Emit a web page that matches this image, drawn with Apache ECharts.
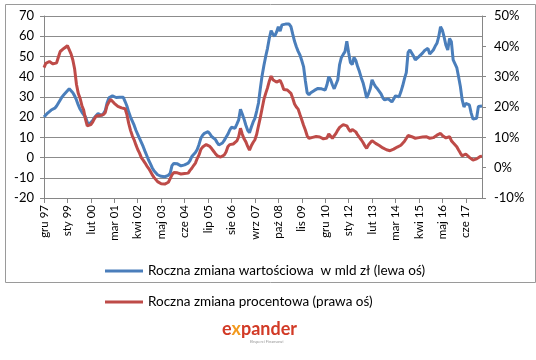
<!DOCTYPE html>
<html>
<head>
<meta charset="utf-8">
<script src="https://cdn.jsdelivr.net/npm/echarts@6/dist/echarts.min.js"></script>
<style>html,body{margin:0;padding:0;background:#fff;}#c{width:536px;height:360px;}</style>
</head>
<body>
<div id="c"></div>
<script>
// Polish month abbreviations; series start at grudzień 1997 (monthly)
var monthNames = ['sty','lut','mar','kwi','maj','cze','lip','sie','wrz','paź','lis','gru'];
var startYear = 1997, startMonth = 11; // Dec 1997
var tickLabels = ['gru 97','sty 99','lut 00','mar 01','kwi 02','maj 03','cze 04','lip 05','sie 06','wrz 07','paź 08','lis 09','gru 10','sty 12','lut 13','mar 14','kwi 15','maj 16','cze 17'];

var seriesNames = ['Roczna zmiana wartościowa  w mld zł (lewa oś)', 'Roczna zmiana procentowa (prawa oś)'];

// Roczna zmiana wartościowa, mld zł (left axis)
var valueChange = [
  20, 21, 22, 22.5, 23.5, 24, 24.4, 25.5, 27, 28.5, 30, 31,
  31.8, 33, 34, 33, 32, 30.5, 28.5, 26, 24, 22.5, 21.2, 20.2,
  17.5, 16.5, 17.2, 18.3, 19.8, 20.8, 21.8, 21.3, 20.8, 21.8, 23.2, 27,
  29.5, 30.3, 30.5, 30, 29.7, 29.3, 29.8, 30.2, 29.8, 27.7, 25.5, 22.5,
  20, 18, 16, 13.5, 11.5, 9.5, 7.5, 5.5, 3.2, 1, -1.2, -3,
  -5, -6.5, -7.5, -8.5, -9, -9.3, -9.4, -9.5, -9.4, -8.8, -7.8, -4,
  -2.9, -3, -3.1, -3.6, -4.1, -3.9, -3.6, -3, -2.8, -1.5, 0.5, 1.5,
  2.5, 4, 6.5, 9.5, 11, 12, 12.5, 12.8, 11.8, 10.4, 9.6, 9,
  7.5, 6.2, 6.6, 7.2, 8.5, 10, 11.5, 13.5, 15, 14.8, 14.5, 16.5,
  18.6, 23.9, 21.5, 19, 16, 13.5, 12.3, 15, 17.5, 19.4, 23, 27,
  34, 40.5, 45.5, 50, 54, 59, 62.8, 61, 60, 62, 64.7, 62.5,
  65.6, 65.5, 66, 66.4, 66, 64.7, 61, 57.5, 54.8, 52.5, 50.7, 48,
  45, 38, 32, 31, 32, 32.8, 33.2, 33.6, 34.2, 34.1, 34, 33.8,
  33.4, 36, 40, 38.5, 36, 34, 34.3, 38.5, 46, 49.5, 51, 52.4,
  57.5, 52, 47, 46, 49.5, 48, 45, 42.5, 39.5, 37, 33.5, 29.5,
  31.5, 34, 38.4, 36.5, 35, 34, 33.2, 31.5, 29.5, 28.5, 29.3, 29,
  28.5, 27.5, 27, 30.5, 30.3, 30.1, 32.5, 35.5, 39, 42, 52, 53.2,
  52.4, 50.2, 48.3, 49.1, 49.9, 50.8, 51.6, 52.8, 53.6, 54, 51.2, 51.8,
  53.2, 55, 56.5, 59.8, 64.7, 63, 59.5, 55.5, 53.2, 58.9, 57.3, 48.3,
  47.5, 44.5, 40, 35.1, 28.5, 25, 26.8, 26.5, 26, 22, 19, 18.3,
  19.4, 25.2, 25.6, 25.5
];

// Roczna zmiana procentowa, % (right axis)
var pctChange = [
  33, 34.4, 34.8, 35, 34.6, 34.2, 34.3, 34.6, 36.5, 38.3, 38.8, 39.3,
  39.8, 40.2, 40.4, 37.5, 35.5, 32.5, 27.5, 24.5, 22.9, 20.5, 19, 16,
  13.8, 13.5, 14.2, 15, 16.2, 17, 17.6, 17.2, 16.8, 17.5, 18.2, 20.5,
  21.6, 22.5, 22, 21.2, 20.7, 20.2, 19.6, 19.7, 19.9, 19.4, 17.5, 14.6,
  12.3, 10.5, 9.2, 7.5, 6, 4.8, 3.3, 2.5, 1.6, 0.6, -0.2, -1.2,
  -2.3, -3.2, -3.8, -4.6, -5, -5.3, -5.4, -5.4, -5.2, -4.8, -3.6, -2.4,
  -1.6, -1.4, -1.7, -2, -2.1, -2, -1.9, -2.1, -1.8, -0.9, -0.2, 0.7,
  1.5, 3, 4.2, 6, 6.8, 7.4, 7.6, 7.5, 7, 6.3, 5.5, 4.7,
  4, 3.6, 3.5, 3.4, 4.2, 5.2, 6.9, 7.6, 8, 7.8, 7.5, 8.8,
  10.2, 13, 11, 9.5, 8.5, 7, 5.8, 7.2, 8.3, 9.2, 11, 13.8,
  16.5, 19.5, 22.5, 24.5, 26.3, 28.5, 30.2, 29, 28.5, 28.2, 28, 28.8,
  27.5, 25.8, 25.9, 25.6, 25.3, 24.5, 22.9, 21, 20, 19.3, 17.5, 15.8,
  14, 12.4, 10.5, 9.7, 9.9, 10, 10.2, 10.3, 10.4, 10.1, 9.8, 9.5,
  9.3, 9.8, 11.1, 10.5, 9.7, 10.2, 11.3, 12.4, 13.3, 13.8, 14.2, 14.8,
  13.8, 12.7, 11.9, 12.6, 13, 11.8, 10.8, 10, 9.2, 8.3, 7.2, 6.4,
  7.5, 8.2, 8.9, 8.3, 8, 7.7, 7.3, 6.9, 6.5, 6.1, 5.9, 5.8,
  5.6, 5.3, 6.1, 6.6, 6.8, 7, 7.4, 8, 8.7, 9.3, 10.6, 10.6,
  10.2, 10, 9.7, 9.8, 9.9, 10, 10.1, 10.3, 10.2, 9.8, 9.7, 9.7,
  9.9, 10.4, 10.7, 11.1, 11.3, 10.6, 10.1, 9.8, 9.9, 10.2, 8.9, 8.2,
  7.6, 6.9, 5.8, 4.8, 3.9, 4.2, 4.5, 3.9, 3.4, 3, 2.5, 2.6,
  2.9, 3.5, 3.7, 3.8
];

var leftTicks = {min: -20, max: 70, interval: 10};
var rightTicks = {min: -10, max: 50, interval: 10};

var categories = [];
for (var i = 0; i < valueChange.length; i++) {
  var m = (startMonth + i) % 12;
  var y = startYear + Math.floor((startMonth + i) / 12);
  categories.push(monthNames[m] + ' ' + String(y % 100).padStart(2, '0'));
}

var FONT = 'Lato';
var chart = echarts.init(document.getElementById('c'), null, {renderer: 'canvas'});
chart.setOption({
  backgroundColor: '#ffffff',
  animation: false,
  textStyle: {fontFamily: FONT},
  grid: {left: 44, right: 54, top: 16, bottom: 162, containLabel: false},
  xAxis: {
    type: 'category',
    data: categories,
    boundaryGap: false,
    axisLine: {onZero: false, lineStyle: {color: '#868686', width: 1}},
    axisTick: {show: true, interval: 12, length: 5, lineStyle: {color: '#868686'}},
    axisLabel: {
      interval: 12, rotate: 90, margin: 7, color: '#000', fontSize: 11.5, fontFamily: FONT,
      formatter: function (v, idx) { return tickLabels[Math.round(idx / 13)] || v; }
    },
    splitLine: {show: false}
  },
  yAxis: [{
    type: 'value', position: 'left',
    min: leftTicks.min, max: leftTicks.max, interval: leftTicks.interval,
    axisLine: {show: true, lineStyle: {color: '#868686'}},
    axisTick: {show: true, length: 4, lineStyle: {color: '#868686'}},
    axisLabel: {color: '#000', fontSize: 13, margin: 10, fontFamily: FONT},
    splitLine: {show: true, lineStyle: {color: '#8c8c8c', width: 1}}
  }, {
    type: 'value', position: 'right',
    min: rightTicks.min, max: rightTicks.max, interval: rightTicks.interval,
    axisLine: {show: true, lineStyle: {color: '#868686'}},
    axisTick: {show: true, length: 4, lineStyle: {color: '#868686'}},
    axisLabel: {color: '#000', fontSize: 13, margin: 12, fontFamily: FONT, formatter: '{value}%'},
    splitLine: {show: false}
  }],
  legend: {
    orient: 'vertical', left: 100, top: 259, itemGap: 17,
    itemWidth: 38, itemHeight: 3, icon: 'rect',
    textStyle: {color: '#000', fontSize: 13.5, fontFamily: FONT},
    data: seriesNames
  },
  series: [{
    name: seriesNames[0], type: 'line', yAxisIndex: 0, data: valueChange,
    showSymbol: false, symbol: 'none', lineStyle: {color: '#4a7ebb', width: 3}, itemStyle: {color: '#4a7ebb'}, z: 2
  }, {
    name: seriesNames[1], type: 'line', yAxisIndex: 1, data: pctChange,
    showSymbol: false, symbol: 'none', lineStyle: {color: '#be4b48', width: 3}, itemStyle: {color: '#be4b48'}, z: 3
  }],
  graphic: [{
    type: 'rect', left: 3, top: 2, shape: {width: 530, height: 278},
    style: {fill: 'none', stroke: '#9a9a9a', lineWidth: 1}, silent: true
  }, {
    type: 'text', left: 222, top: 320,
    style: {
      text: '{e|e}{x|x}{p|pander}', font: 'bold 18px ' + FONT,
      rich: {
        e: {fill: '#d23a26', font: 'bold 18px ' + FONT},
        x: {fill: '#f39a1e', font: 'bold 18px ' + FONT},
        p: {fill: '#d23a26', font: 'bold 18px ' + FONT}
      }
    }
  }, {
    type: 'text', left: 250, top: 340,
    style: {text: 'Eksperci Finansowi', fill: '#999', font: '4px ' + FONT}
  }]
});
</script>
</body>
</html>
